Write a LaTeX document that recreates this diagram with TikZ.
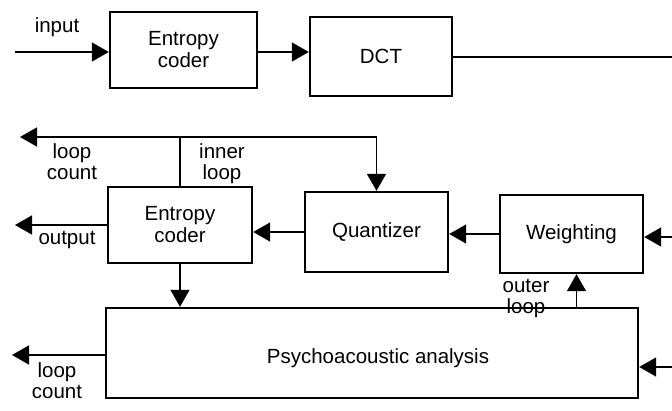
\documentclass[tikz,border=0pt]{standalone}
\usepackage{fontspec}
\setmainfont{Liberation Sans}
\usetikzlibrary{arrows.meta}
\begin{document}
\begin{tikzpicture}[x=1pt,y=-1pt,
  font=\fontsize{20.5}{22}\selectfont,
  tip/.tip={Triangle[length=17pt,width=19pt]},
  block/.style={draw, line width=2.4pt, rectangle, align=center, inner sep=0pt},
  wire/.style={line width=1.5pt},
  arr/.style={wire, -tip},
  lbl/.style={align=center, inner sep=0pt, font=\fontsize{20.5}{21}\selectfont}]
\useasboundingbox[fill=white] (0,0) rectangle (672,410);

% processing blocks
\node[block, minimum width=147pt, minimum height=76pt] (ec1) at (183.5,50) {Entropy\\coder};
\node[block, minimum width=142pt, minimum height=79pt] (dct) at (381,56.5) {DCT};
\node[block, minimum width=144pt, minimum height=76pt] (ec2) at (180,225) {Entropy\\coder};
\node[block, minimum width=143pt, minimum height=80pt] (quant) at (376.5,232) {Quantizer};
\node[block, minimum width=143pt, minimum height=78pt] (weight) at (571.5,234) {Weighting};
\node[block, minimum width=532pt, minimum height=90pt] (psy) at (372,353) {};
\node[lbl] (psytext) at (378,358) {Psychoacoustic analysis};

% free ends of the connectors
\coordinate (in) at (15,52);
\coordinate (dctout) at (672,57);
\coordinate (lc1) at (20,137);
\coordinate (out) at (15,225);
\coordinate (win) at (672,237);
\coordinate (pin) at (672,367);
\coordinate (lc2) at (12,355);

% top chain
\draw[arr] (in) -- (ec1.west |- in);
\draw[arr] (ec1.east |- in) -- (dct.west |- in);
\draw[wire] (dct.east |- dctout) -- (dctout);

% inner loop
\draw[wire, tip-tip] (lc1) -- (quant.north |- lc1) -- (quant.north);
\draw[wire] (ec2.north) -- (ec2.north |- lc1);

% middle chain
\draw[arr] (ec2.west |- out) -- (out);
\draw[arr] (quant.west) -- (ec2.east |- quant.west);
\draw[arr] (weight.west) -- (quant.east |- weight.west);
\draw[arr] (win) -- (weight.east |- win);

% psychoacoustic connections
\draw[arr] (ec2.south) -- (ec2.south |- psy.north);
\draw[arr] (psy.west |- lc2) -- (lc2);
\draw[arr] ([xshift=5pt]weight.south |- psy.north) -- ([xshift=5pt]weight.south);
\draw[arr] (pin) -- (psy.east |- pin);

% labels
\node[lbl] (linput) at (57,27) {input};
\node[lbl] (lloop1) at (72,162) {loop\\count};
\node[lbl] (linner) at (222,164) {inner\\loop};
\node[lbl] (loutput) at (67,240) {output};
\node[lbl] (louter) at (526,298) {outer\\loop};
\node[lbl] (lloop2) at (57,381) {loop\\count};
\end{tikzpicture}
\end{document}
